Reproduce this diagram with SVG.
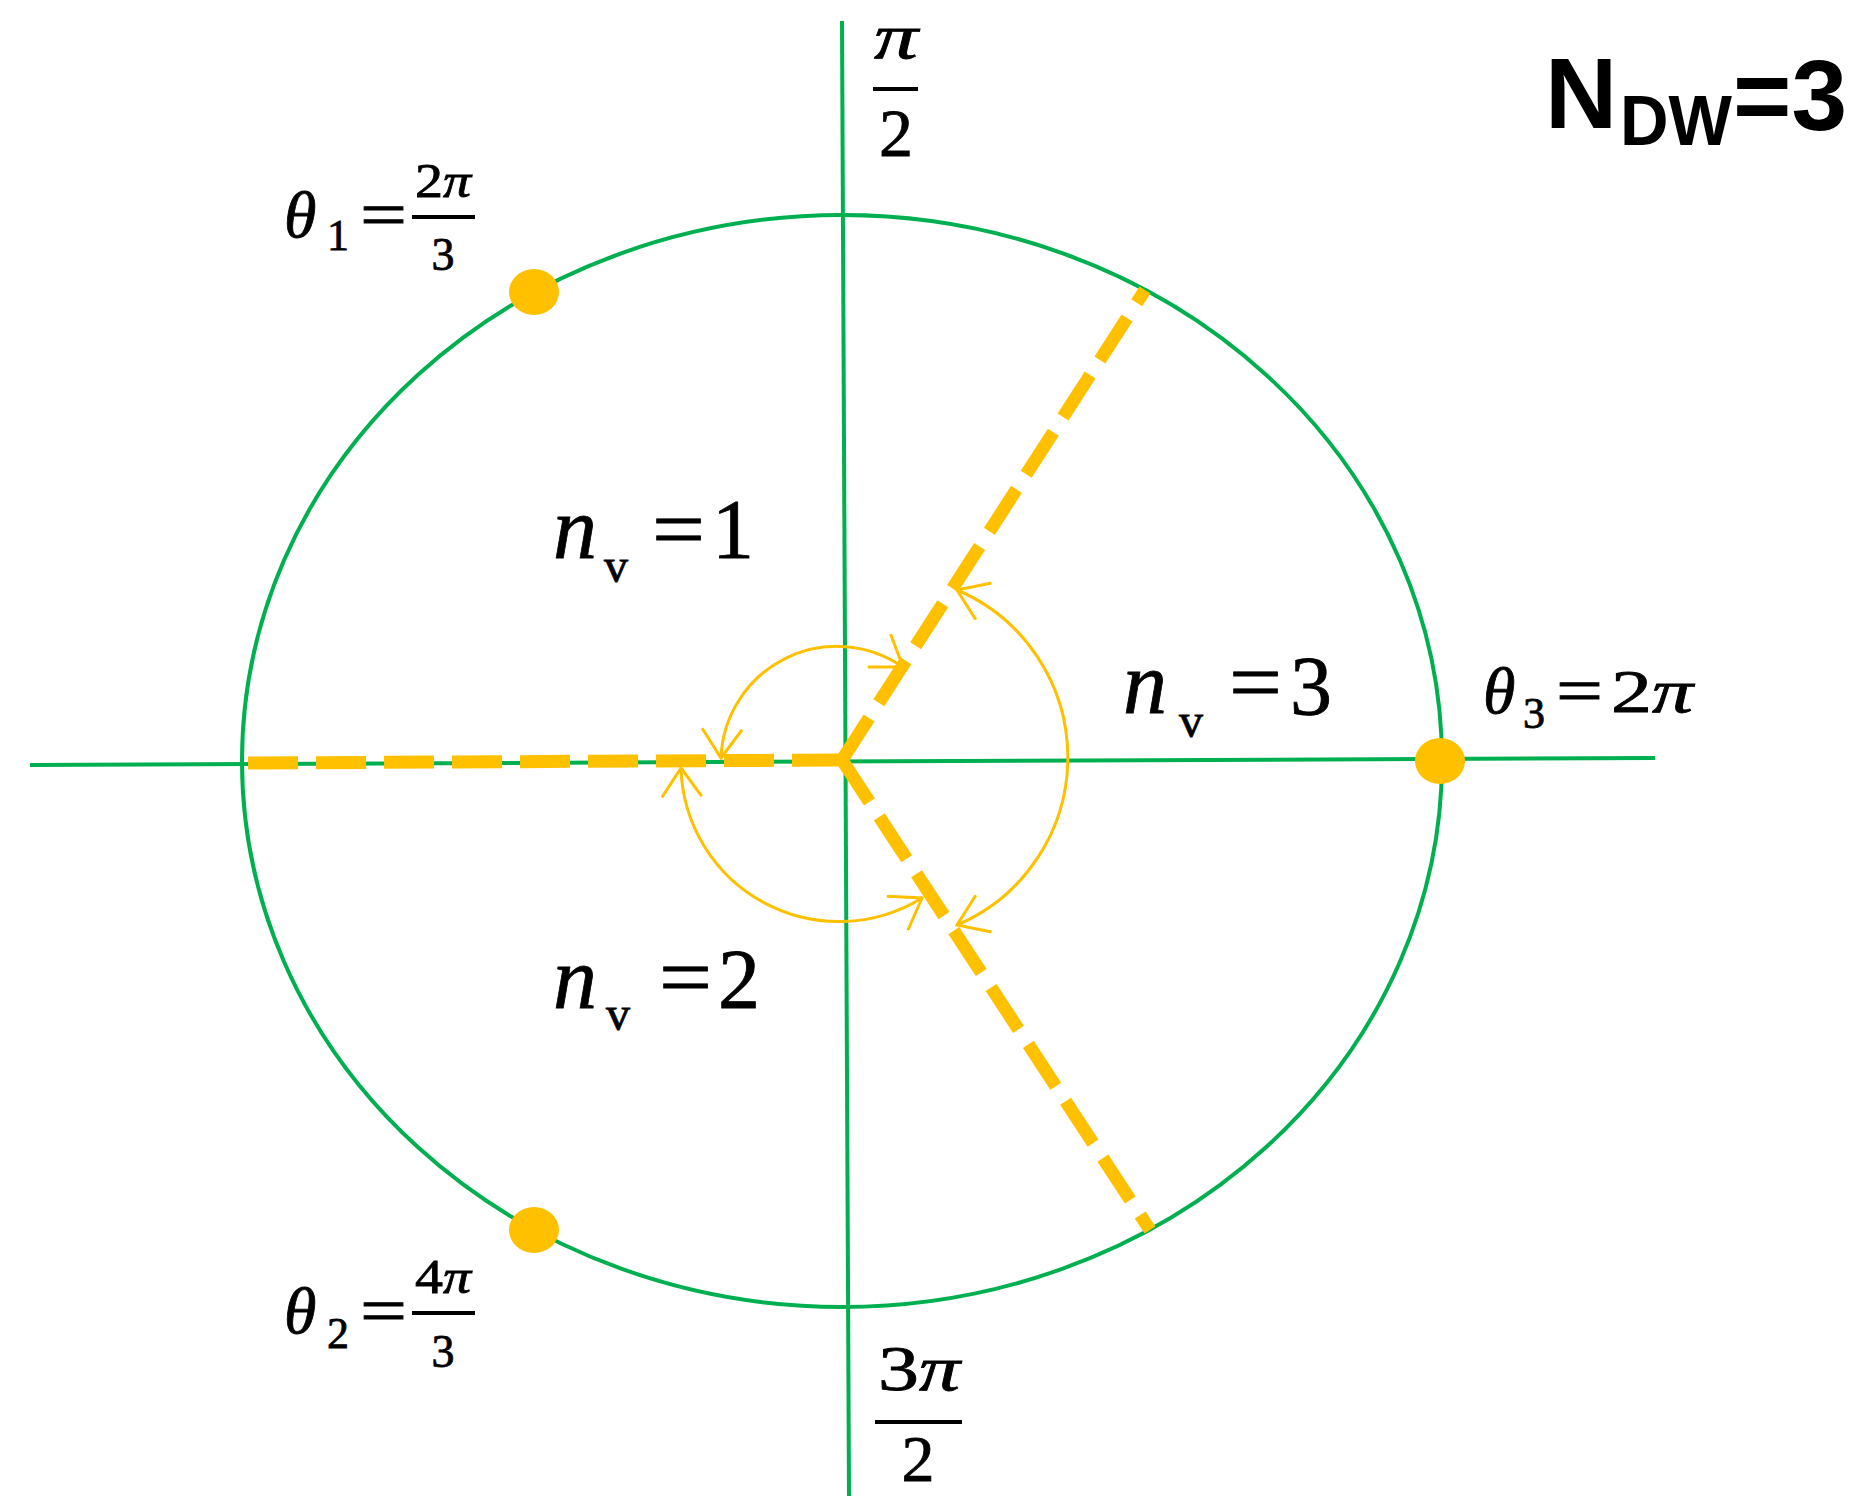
<svg xmlns="http://www.w3.org/2000/svg" width="1854" height="1496" viewBox="0 0 1854 1496">
<style>
.ax{stroke:#00B050;stroke-width:4;fill:none}
.ray{stroke:#FFC000;stroke-width:13;stroke-dasharray:50 18;fill:none}
.arc{stroke:#FFC000;stroke-width:3;fill:none;marker-start:url(#ah);marker-end:url(#ah)}
.dot{fill:#FFC000}
.m{font-family:"Liberation Serif","Times New Roman",serif;fill:#000;stroke:#000;stroke-width:0.8}
.i{font-style:italic}
.bar{stroke:#000;stroke-width:4}
.b{font-family:"Liberation Sans",Arial,sans-serif;font-weight:bold;fill:#000}
</style>
<defs>
<marker id="ah" viewBox="0 0 32 42" refX="30" refY="21" markerWidth="32" markerHeight="42" markerUnits="userSpaceOnUse" orient="auto-start-reverse">
<path d="M1,1 L30,21 L1,41" fill="none" stroke="#FFC000" stroke-width="3"/>
</marker>
</defs>
<rect width="1854" height="1496" fill="#fff"/>
<g id="axes">
<ellipse class="ax" cx="842" cy="761" rx="600" ry="546"/>
<line class="ax" x1="842" y1="21" x2="849" y2="1496"/>
<line class="ax" x1="30" y1="765" x2="1655" y2="758"/>
</g>
<g id="connectors">
<line class="ray" x1="842" y1="760" x2="1145" y2="290"/>
<line class="ray" x1="842" y1="760" x2="1150" y2="1230"/>
<line class="ray" x1="842" y1="760" x2="248" y2="763"/>
<path class="arc" d="M721,758 A116,116 0 0 1 903,667"/>
<path class="arc" d="M681,768 A158,158 0 0 0 922,898"/>
<path class="arc" d="M957,590 A182,182 0 0 1 957,925"/>
</g>
<g id="dots">
<ellipse class="dot" cx="534" cy="292" rx="25" ry="23"/>
<ellipse class="dot" cx="534" cy="1230" rx="25" ry="23"/>
<ellipse class="dot" cx="1440" cy="761" rx="25" ry="23"/>
</g>
<g id="label-pi2">
<text class="m i" x="896" y="58" font-size="64" text-anchor="middle" textLength="44" lengthAdjust="spacingAndGlyphs">π</text>
<line class="bar" x1="873" y1="89" x2="918" y2="89"/>
<text class="m" x="896" y="156" font-size="68" text-anchor="middle">2</text>
</g>
<g id="label-3pi2">
<text class="m" x="919" y="1390" font-size="64" text-anchor="middle" textLength="82" lengthAdjust="spacingAndGlyphs">3<tspan class="i">π</tspan></text>
<line class="bar" x1="875" y1="1422" x2="962" y2="1422"/>
<text class="m" x="918" y="1481" font-size="66" text-anchor="middle">2</text>
</g>
<g id="label-ndw">
<text class="b" x="1545" y="128" font-size="100">N</text>
<text class="b" x="1620" y="145" font-size="70" textLength="112" lengthAdjust="spacingAndGlyphs">DW</text>
<text class="b" x="1733" y="130" font-size="100">=3</text>
</g>
<g id="label-theta1">
<text class="m i" x="284" y="237" font-size="66">θ</text>
<text class="m" x="327" y="250" font-size="44">1</text>
<text class="m" x="360" y="237" font-size="66" textLength="47" lengthAdjust="spacingAndGlyphs">=</text>
<text class="m" x="443" y="197" font-size="48" text-anchor="middle" textLength="56" lengthAdjust="spacingAndGlyphs">2<tspan class="i">π</tspan></text>
<line class="bar" x1="412" y1="217" x2="475" y2="217"/>
<text class="m" x="443" y="270" font-size="46" text-anchor="middle">3</text>
</g>
<g id="label-theta2">
<text class="m i" x="284" y="1333" font-size="66">θ</text>
<text class="m" x="327" y="1348" font-size="44">2</text>
<text class="m" x="360" y="1333" font-size="66" textLength="47" lengthAdjust="spacingAndGlyphs">=</text>
<text class="m" x="443" y="1293" font-size="48" text-anchor="middle" textLength="56" lengthAdjust="spacingAndGlyphs">4<tspan class="i">π</tspan></text>
<line class="bar" x1="412" y1="1313" x2="475" y2="1313"/>
<text class="m" x="443" y="1367" font-size="46" text-anchor="middle">3</text>
</g>
<g id="label-theta3">
<text class="m i" x="1483" y="713" font-size="66">θ</text>
<text class="m" x="1523" y="728" font-size="44">3</text>
<text class="m" x="1556" y="713" font-size="66" textLength="47" lengthAdjust="spacingAndGlyphs">=</text>
<text class="m" x="1611" y="712" font-size="62" textLength="82" lengthAdjust="spacingAndGlyphs">2<tspan class="i">π</tspan></text>
</g>
<g id="label-nv1">
<text class="m i" x="553" y="558" font-size="88">n</text>
<text class="m" x="604" y="582" font-size="48">v</text>
<text class="m" x="652" y="558" font-size="84" textLength="53" lengthAdjust="spacingAndGlyphs">=</text>
<text class="m" x="712" y="558" font-size="84">1</text>
</g>
<g id="label-nv3">
<text class="m i" x="1123" y="713" font-size="88">n</text>
<text class="m" x="1179" y="737" font-size="48">v</text>
<text class="m" x="1229" y="711" font-size="84" textLength="53" lengthAdjust="spacingAndGlyphs">=</text>
<text class="m" x="1290" y="715" font-size="84">3</text>
</g>
<g id="label-nv2">
<text class="m i" x="553" y="1008" font-size="88">n</text>
<text class="m" x="606" y="1030" font-size="48">v</text>
<text class="m" x="659" y="1006" font-size="84" textLength="53" lengthAdjust="spacingAndGlyphs">=</text>
<text class="m" x="718" y="1008" font-size="84">2</text>
</g>
</svg>
